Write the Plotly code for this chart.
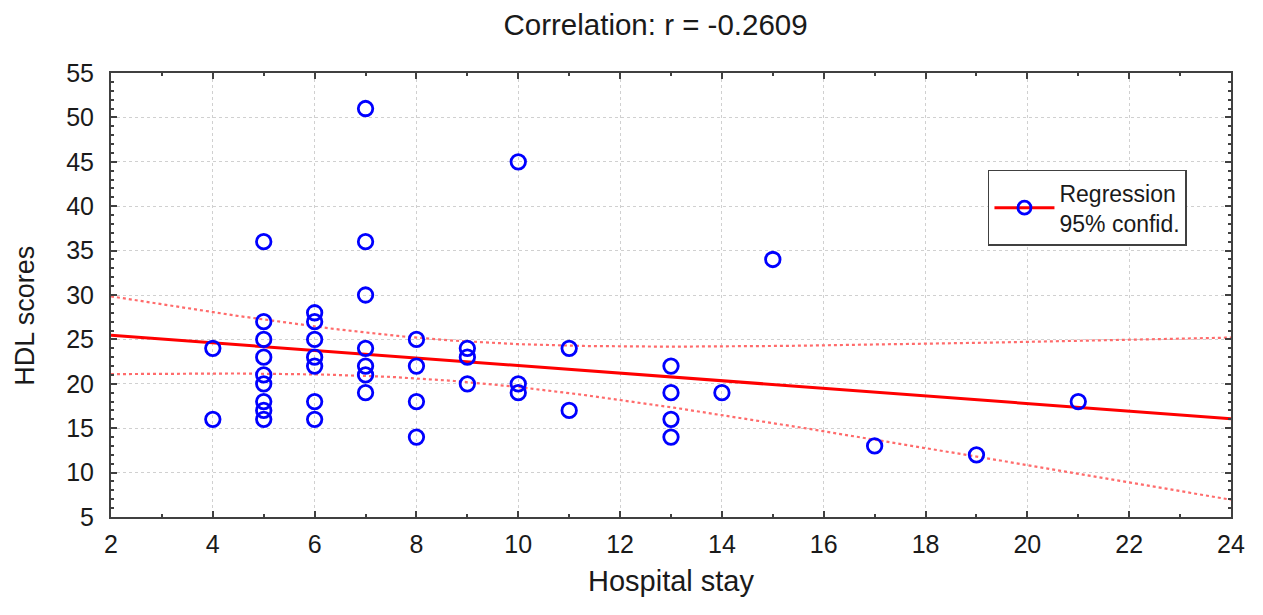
import numpy as np
import plotly.graph_objects as go

# Data
hospital_stay = [4, 4,
                 5, 5, 5, 5, 5, 5, 5, 5, 5,
                 6, 6, 6, 6, 6, 6, 6,
                 7, 7, 7, 7, 7, 7, 7,
                 8, 8, 8, 8,
                 9, 9, 9,
                 10, 10, 10,
                 11, 11,
                 13, 13, 13, 13,
                 14, 15, 17, 19, 21]
hdl_scores = [24, 16,
              36, 27, 25, 23, 21, 20, 18, 17, 16,
              28, 27, 25, 23, 22, 18, 16,
              51, 36, 30, 24, 22, 21, 19,
              25, 22, 18, 14,
              24, 23, 20,
              45, 20, 19,
              24, 17,
              22, 19, 16, 14,
              19, 34, 13, 12, 18]
x_ticks = [2, 4, 6, 8, 10, 12, 14, 16, 18, 20, 22, 24]
y_ticks = [5, 10, 15, 20, 25, 30, 35, 40, 45, 50, 55]
title_text = "Correlation: r = -0.2609"
x_title = "Hospital stay"
y_title = "HDL scores"
legend_label = "Regression<br>95% confid."
t_crit = 2.015  # t(0.975, df=44)

x = np.array(hospital_stay, dtype=float)
y = np.array(hdl_scores, dtype=float)
n = len(x)
xm, ym = x.mean(), y.mean()
sxx = ((x - xm) ** 2).sum()
b = ((x - xm) * (y - ym)).sum() / sxx
a = ym - b * xm
res = y - (a + b * x)
s = np.sqrt((res ** 2).sum() / (n - 2))

xl = np.linspace(x_ticks[0], x_ticks[-1], 200)
yl = a + b * xl
half = t_crit * s * np.sqrt(1 / n + (xl - xm) ** 2 / sxx)

FONT = "Liberation Sans"
TXT = "#1a1a1a"

fig = go.Figure()
band_style = dict(color="#ff6b6b", width=2.2, dash="dot")
fig.add_trace(go.Scatter(x=xl, y=yl + half, mode="lines", line=band_style,
                         showlegend=False, hoverinfo="skip"))
fig.add_trace(go.Scatter(x=xl, y=yl - half, mode="lines", line=band_style,
                         showlegend=False, hoverinfo="skip"))
fig.add_trace(go.Scatter(x=xl, y=yl, mode="lines",
                         line=dict(color="#ff0000", width=3),
                         showlegend=False, hoverinfo="skip"))
fig.add_trace(go.Scatter(x=x, y=y, mode="markers",
                         marker=dict(symbol="circle-open", size=14.5, color="#0000ff",
                                     line=dict(width=2.8, color="#0000ff")),
                         showlegend=False))
fig.add_trace(go.Scatter(x=[None], y=[None], mode="lines+markers", name=legend_label,
                         line=dict(color="#ff0000", width=3),
                         marker=dict(symbol="circle-open", size=13, color="#0000ff",
                                     line=dict(width=2.8, color="#0000ff"))))

axis_common = dict(
    showline=True, linecolor="#404040", linewidth=2, mirror="allticks",
    ticks="inside", ticklen=6, tickwidth=1.5, tickcolor="#404040",
    showgrid=True, gridcolor="#d0d0d0", griddash="dot", gridwidth=1.2,
    zeroline=False, automargin=False,
    tickfont=dict(family=FONT, size=25, color=TXT),
)

fig.update_xaxes(**axis_common, range=[2, 24], tickvals=x_ticks,
                 minor=dict(dtick=1, ticks="inside", ticklen=3, tickcolor="#404040", showgrid=False),
                 ticklabelstandoff=4,
                 title=dict(text=x_title, font=dict(family=FONT, size=29, color=TXT),
                            standoff=14))
fig.update_yaxes(**axis_common, range=[5, 55], tickvals=y_ticks,
                 minor=dict(dtick=1, ticks="inside", ticklen=3, tickcolor="#404040", showgrid=False),
                 ticklabelstandoff=10)

fig.add_annotation(text=y_title, textangle=-90, xref="paper", yref="paper",
                   x=-0.0768, y=0.453, xanchor="center", yanchor="middle",
                   showarrow=False, font=dict(family=FONT, size=27, color=TXT))

fig.update_layout(
    width=1255, height=607,
    margin=dict(l=103, r=32, t=65, b=98),
    paper_bgcolor="white", plot_bgcolor="white",
    title=dict(text=title_text, x=0.516, xanchor="center", y=0.972, yanchor="middle",
               font=dict(family=FONT, size=29.5, color=TXT)),
    legend=dict(x=0.783, y=0.782, xanchor="left", yanchor="top",
                bgcolor="white", bordercolor="#404040", borderwidth=1.5,
                itemwidth=60,
                font=dict(family=FONT, size=23, color=TXT)),
    showlegend=True,
)

fig.write_html("out.html")
